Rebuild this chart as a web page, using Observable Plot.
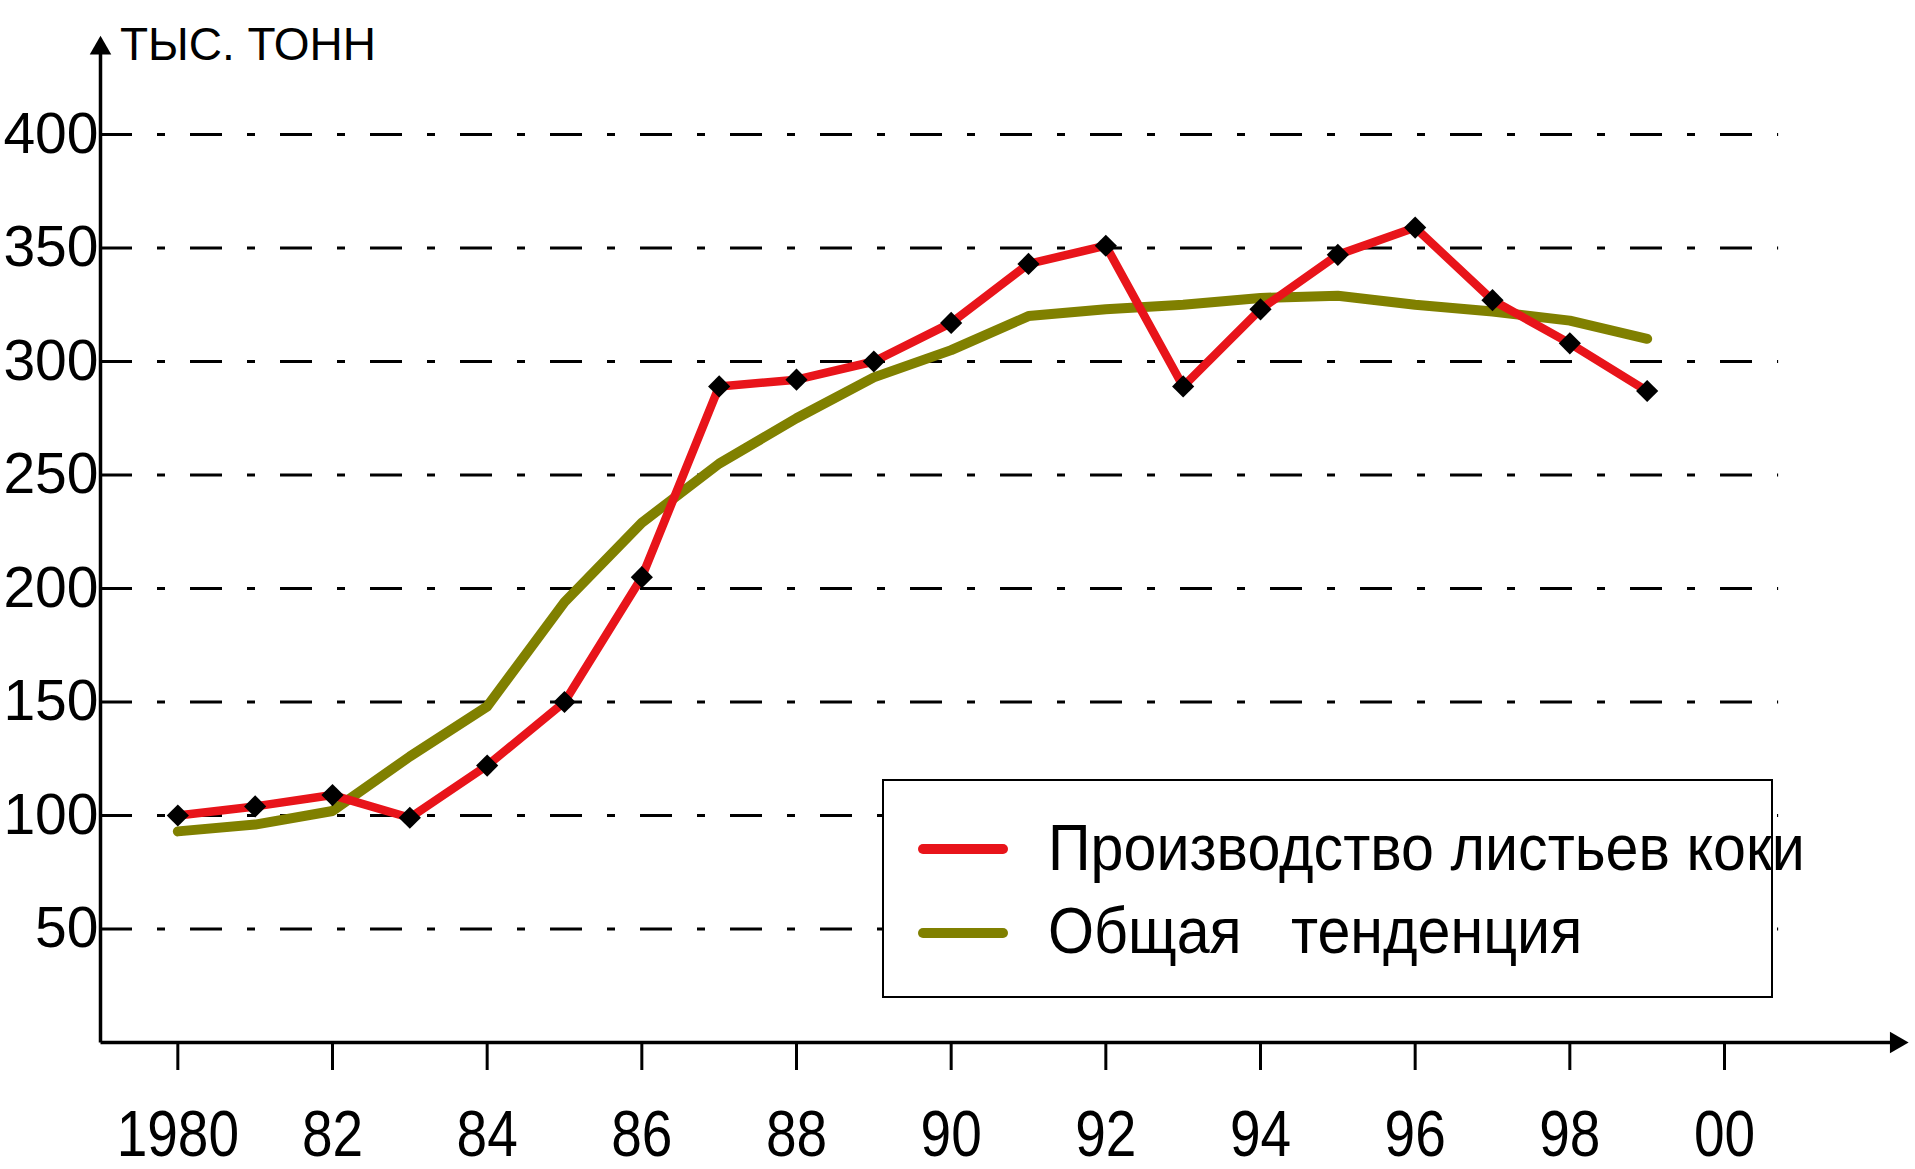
<!DOCTYPE html>
<html><head><meta charset="utf-8">
<script src="https://cdn.jsdelivr.net/npm/d3@7"></script>
<script src="https://cdn.jsdelivr.net/npm/@observablehq/plot@0.6"></script>
<style>
body{margin:0;background:#fff;}
#wrap{position:relative;width:1915px;height:1169px;overflow:hidden;background:#fff;}
#wrap svg{position:absolute;left:0;top:0;}
.ylabel{position:absolute;left:120px;top:21px;font-family:"Liberation Sans",Arial,sans-serif;font-size:46px;line-height:1;white-space:nowrap;color:#000;}
.legend{position:absolute;left:882px;top:779px;width:887px;height:215px;border:2px solid #000;background:#fff;}
.legend .sw{position:absolute;left:34px;width:90px;height:10px;border-radius:5px;}
.legend .tx{position:absolute;left:164px;font-family:"Liberation Sans",Arial,sans-serif;font-size:64px;line-height:1;white-space:pre;color:#000;transform:scaleX(0.925);transform-origin:0 0;}
</style>
</head><body>
<div id="wrap"></div>
<script>
const years = [1980,1981,1982,1983,1984,1985,1986,1987,1988,1989,1990,1991,1992,1993,1994,1995,1996,1997,1998,1999];
const production = [100,104,109,99,122,150,205,289,292,300,317,343,351,289,323,347,359,327,308,287];
const trend = [93,96,102,126,148,194,229,255,275,293,305,320,323,325,328,329,325,322,318,310];
const xTicks = [1980,1982,1984,1986,1988,1990,1992,1994,1996,1998,2000];
const yTicks = [50,100,150,200,250,300,350,400];
const seriesNames = ["Производство листьев коки", "Общая   тенденция"];
const seriesColors = ["#e8141a", "#808000"];
const yLabel = "ТЫС. ТОНН";
const xAxisStart = 1979, xAxisEnd = 2002.34, gridEnd = 2000.7;
const yAxisEnd = 447;

const prodData = years.map((y, i) => ({year: y, value: production[i]}));
const trendData = years.map((y, i) => ({year: y, value: trend[i]}));

const chart = Plot.plot({
  width: 1915,
  height: 1169,
  marginLeft: 100,
  marginRight: 191,
  marginTop: 134,
  marginBottom: 127,
  style: {fontFamily: "'Liberation Sans', Arial, sans-serif", color: "#000", background: "transparent", overflow: "visible"},
  x: {domain: [1979, 2000]},
  y: {domain: [0, 400]},
  marks: [
    Plot.ruleY(yTicks, {x1: xAxisStart, x2: gridEnd, stroke: "#000", strokeWidth: 3, strokeDasharray: "32,25,8,25"}),
    Plot.link([0], {x1: xAxisStart, y1: 0, x2: xAxisEnd - 0.2, y2: 0, stroke: "#000", strokeWidth: 3.5}),
    Plot.link([0], {x1: xAxisStart, y1: 0, x2: xAxisStart, y2: yAxisEnd - 8, stroke: "#000", strokeWidth: 3.5}),
    Plot.dot([0], {x: xAxisEnd - 0.12, y: 0, symbol: "triangle", r: 8, fill: "#000", rotate: 90}),
    Plot.dot([0], {x: xAxisStart, y: yAxisEnd - 9, symbol: "triangle", r: 8, fill: "#000"}),
    Plot.axisX({ticks: xTicks, tickFormat: d => d === 1980 ? "1980" : String(d % 100).padStart(2, "0"), tickSize: 28, tickPadding: 40, strokeWidth: 3, fontSize: 64, label: null}),
    Plot.axisY({ticks: yTicks, tickSize: 0, tickPadding: 2, fontSize: 57, label: null}),
    Plot.line(trendData, {x: "year", y: "value", stroke: seriesColors[1], strokeWidth: 10, strokeLinejoin: "round", strokeLinecap: "round"}),
    Plot.line(prodData, {x: "year", y: "value", stroke: seriesColors[0], strokeWidth: 8.5, strokeLinejoin: "round", strokeLinecap: "round"}),
    Plot.dot(prodData, {x: "year", y: "value", symbol: "diamond2", r: 10, fill: "#000"})
  ]
});
// condensed look of the original x tick labels
d3.select(chart).selectAll('g[aria-label="x-axis tick label"] text').each(function() {
  const t = this.getAttribute("transform") || "";
  this.setAttribute("transform", t + " scale(0.86,1)");
});
const wrap = document.getElementById("wrap");
wrap.appendChild(chart);

const lab = document.createElement("div");
lab.className = "ylabel";
lab.textContent = yLabel;
wrap.appendChild(lab);

const leg = document.createElement("div");
leg.className = "legend";
const rows = [{sw: 63, tx: 35}, {sw: 147, tx: 118}];
seriesNames.forEach((n, i) => {
  const s = document.createElement("div");
  s.className = "sw"; s.style.top = rows[i].sw + "px"; s.style.background = seriesColors[i];
  leg.appendChild(s);
  const t = document.createElement("div");
  t.className = "tx"; t.style.top = rows[i].tx + "px"; t.textContent = n;
  leg.appendChild(t);
});
wrap.appendChild(leg);
</script>
</body></html>
